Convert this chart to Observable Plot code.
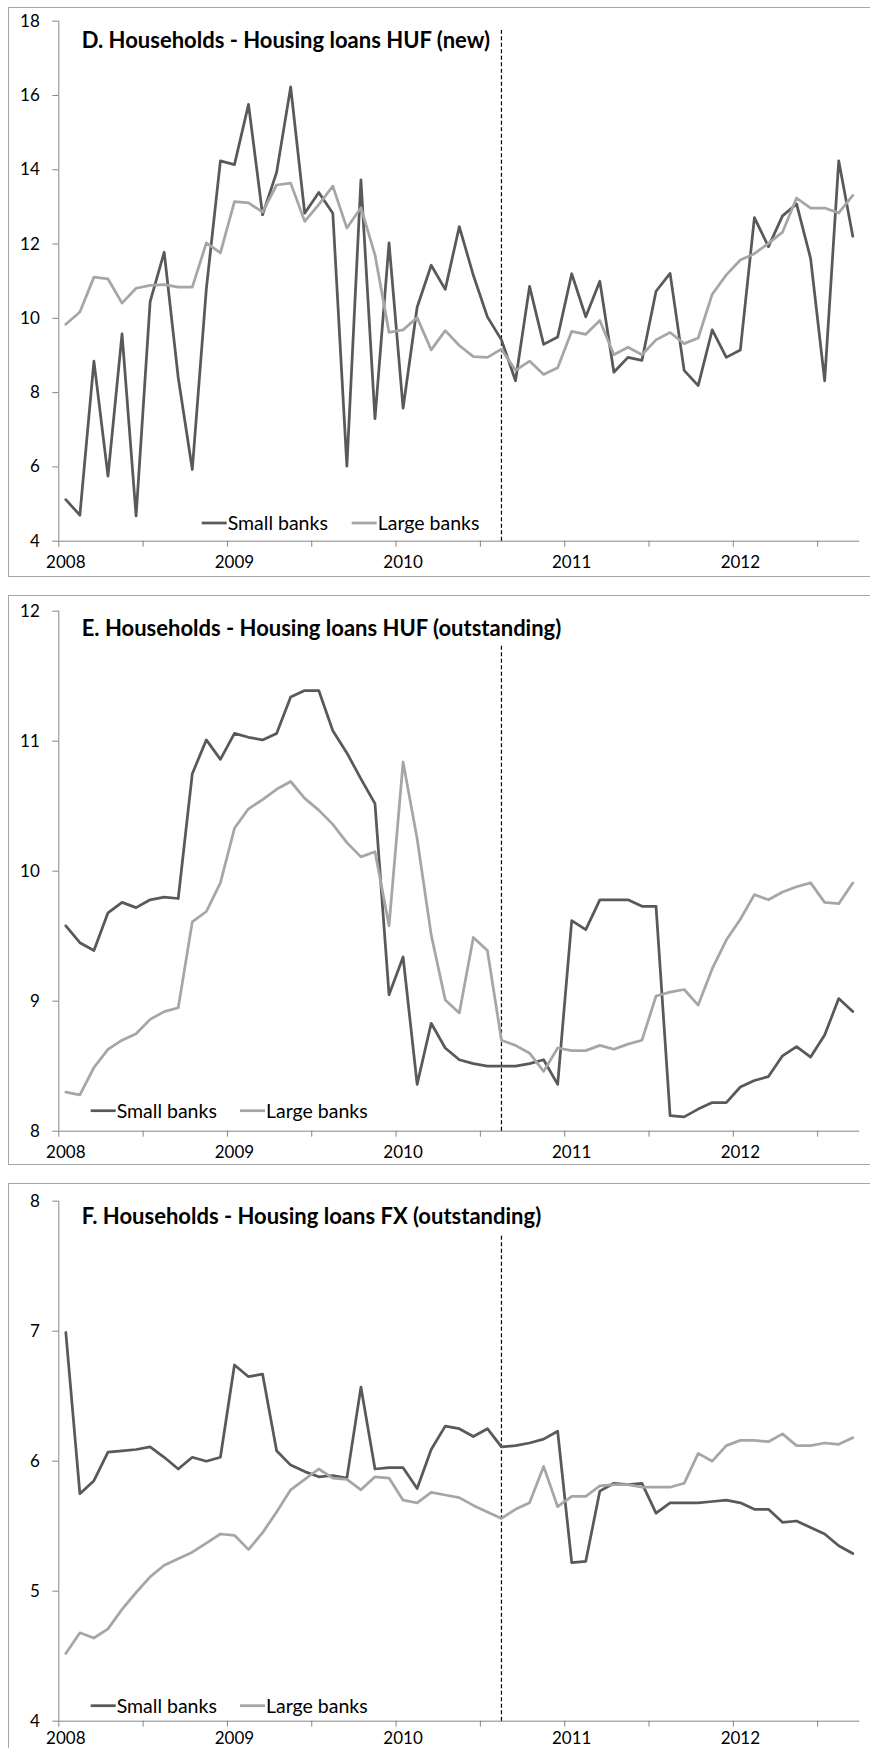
<!DOCTYPE html>
<html><head><meta charset="utf-8">
<script src="https://cdn.jsdelivr.net/npm/d3@7"></script>
<script src="https://cdn.jsdelivr.net/npm/@observablehq/plot@0.6"></script>
<style>
body{margin:0;width:870px;height:1748px;overflow:hidden;background:#fff;font-family:Lato,"Open Sans",sans-serif;position:relative}
.panel{position:absolute;left:8px;width:900px;height:568px;border:1px solid #a6a6a6;background:#fff}
.panel svg{position:absolute;left:0;top:0}
</style></head><body>
<div id="p0" class="panel" style="top:7px"></div>
<div id="p1" class="panel" style="top:595px"></div>
<div id="p2" class="panel" style="top:1183px"></div>
<script>
// Monthly categories: Jan 2008 (index 0) ... Sep 2012 (index 56)
const monthCount = 57;
const yearLabels = ["2008", "2009", "2010", "2011", "2012"];
const yearIndex = [0, 12, 24, 36, 48];
const seriesNames = ["Small banks", "Large banks"];
const policyMonth = [31]; // Aug 2010

const titles = [
  "D. Households - Housing loans HUF (new)",
  "E. Households - Housing loans HUF (outstanding)",
  "F. Households - Housing loans FX (outstanding)"
];

const dSmall = [5.12,4.70,8.85,5.75,9.58,4.68,10.45,11.78,8.40,5.93,10.80,14.24,14.14,15.76,12.79,13.93,16.23,12.83,13.39,12.83,6.02,13.73,7.30,12.03,7.58,10.30,11.43,10.78,12.47,11.16,10.04,9.42,8.32,10.86,9.30,9.50,11.20,10.04,11.00,8.55,8.95,8.87,10.73,11.21,8.60,8.19,9.69,8.95,9.15,12.71,11.93,12.76,13.08,11.61,8.32,14.24,12.21];
const dLarge = [9.84,10.17,11.11,11.06,10.41,10.81,10.89,10.91,10.84,10.84,12.03,11.76,13.14,13.11,12.86,13.59,13.64,12.61,13.06,13.56,12.43,12.98,11.71,9.62,9.69,10.02,9.15,9.67,9.27,8.97,8.95,9.17,8.60,8.85,8.49,8.67,9.65,9.57,9.94,9.02,9.22,9.02,9.42,9.62,9.32,9.47,10.65,11.17,11.57,11.74,12.02,12.32,13.24,12.97,12.97,12.84,13.31];

const eSmall = [9.58,9.45,9.39,9.68,9.76,9.72,9.78,9.80,9.79,10.75,11.01,10.86,11.06,11.03,11.01,11.06,11.34,11.39,11.39,11.08,10.91,10.71,10.52,9.05,9.34,8.36,8.83,8.64,8.55,8.52,8.50,8.50,8.50,8.52,8.55,8.36,9.62,9.55,9.78,9.78,9.78,9.73,9.73,8.12,8.11,8.17,8.22,8.22,8.34,8.39,8.42,8.58,8.65,8.57,8.74,9.02,8.92];
const eLarge = [8.30,8.28,8.49,8.63,8.70,8.75,8.86,8.92,8.95,9.61,9.69,9.91,10.33,10.48,10.55,10.63,10.69,10.56,10.47,10.36,10.22,10.11,10.15,9.58,10.84,10.25,9.51,9.01,8.91,9.49,9.39,8.70,8.66,8.60,8.46,8.64,8.62,8.62,8.66,8.63,8.67,8.70,9.04,9.07,9.09,8.97,9.25,9.47,9.63,9.82,9.78,9.84,9.88,9.91,9.76,9.75,9.91];

const fSmall = [6.99,5.75,5.85,6.07,6.08,6.09,6.11,6.03,5.94,6.03,6.00,6.03,6.74,6.65,6.67,6.08,5.97,5.92,5.88,5.89,5.87,6.57,5.94,5.95,5.95,5.79,6.09,6.27,6.25,6.19,6.25,6.11,6.12,6.14,6.17,6.23,5.22,5.23,5.77,5.83,5.82,5.83,5.60,5.68,5.68,5.68,5.69,5.70,5.68,5.63,5.63,5.53,5.54,5.49,5.44,5.35,5.29];
const fLarge = [4.52,4.68,4.64,4.71,4.86,4.99,5.11,5.20,5.25,5.30,5.37,5.44,5.43,5.32,5.45,5.61,5.78,5.86,5.94,5.87,5.86,5.78,5.88,5.87,5.70,5.68,5.76,5.74,5.72,5.66,5.61,5.56,5.63,5.68,5.96,5.65,5.73,5.73,5.81,5.82,5.82,5.80,5.80,5.80,5.83,6.06,6.00,6.12,6.16,6.16,6.15,6.21,6.12,6.12,6.14,6.13,6.18];

const dTicks = [4, 6, 8, 10, 12, 14, 16, 18];
const eTicks = [8, 9, 10, 11, 12];
const fTicks = [4, 5, 6, 7, 8];
const dashTops = [17.75, 11.73, 7.73];

// styles & layout
const seriesColors = ["#595959", "#a6a6a6"];
const axisGray = "#868686";
const FONT = "Lato, 'Open Sans', sans-serif";
const layout = [
  {id: "p0", mt: 12.7, mb: 35.3, legX: [192.7, 342.7], legY: 515, labPad: 15},
  {id: "p1", mt: 14.7, mb: 33.3, legX: [81.7, 231], legY: 514.7, labPad: 15},
  {id: "p2", mt: 16.7, mb: 31.3, legX: [81.7, 231], legY: 521.7, labPad: 11}
];
const panelData = [[dSmall, dLarge], [eSmall, eLarge], [fSmall, fLarge]];
const panelTicks = [dTicks, eTicks, fTicks];

layout.forEach((L, p) => {
  const rows = [];
  seriesNames.forEach((s, k) => panelData[p][k].forEach((v, i) => rows.push({series: s, i, v})));
  const ticks = panelTicks[p];
  const lo = d3.min(ticks), hi = d3.max(ticks);
  const halfYearTicks = d3.range(0, monthCount - 2, 6).map(i => i - 0.5);
  const svg = Plot.plot({
    width: 861, height: 568,
    marginLeft: 49.3, marginRight: 10.7, marginTop: L.mt, marginBottom: L.mb,
    style: {fontFamily: FONT, fontSize: "17px", color: "#000", background: "none", overflow: "visible"},
    x: {domain: [-0.5, monthCount - 0.5], axis: null},
    y: {domain: [lo, hi], axis: null},
    color: {domain: seriesNames, range: seriesColors},
    marks: [
      Plot.axisY({ticks, label: null, tickSize: 6, tickPadding: 13, stroke: axisGray, fill: "#000", tickFormat: d => String(d)}),
      Plot.axisX({ticks: halfYearTicks, label: null, tickSize: 6, stroke: axisGray, tickFormat: () => ""}),
      Plot.axisX({ticks: yearIndex, label: null, tickSize: 0, tickPadding: L.labPad, fill: "#000", tickFormat: i => yearLabels[yearIndex.indexOf(i)]}),
      Plot.ruleX([-0.5], {stroke: axisGray}),
      Plot.ruleY([lo], {stroke: axisGray}),
      Plot.ruleX(policyMonth, {y1: lo, y2: dashTops[p], stroke: "#000", strokeWidth: 1.2, strokeDasharray: "4,2.5"}),
      Plot.line(rows, {x: "i", y: "v", z: "series", stroke: "series", strokeWidth: 2.75})
    ]
  });
  const s = d3.select(svg);
  s.append("text")
    .attr("x", 72.7).attr("y", 40)
    .attr("text-anchor", "start")
    .attr("font-family", FONT).attr("font-weight", "bold").attr("font-size", 22)
    .attr("fill", "#000")
    .text(titles[p]);
  const g = s.append("g").attr("font-family", FONT).attr("font-size", 19.5).attr("fill", "#000").attr("text-anchor", "start");
  seriesNames.forEach((name, k) => {
    g.append("line")
      .attr("x1", L.legX[k]).attr("x2", L.legX[k] + 25)
      .attr("y1", L.legY).attr("y2", L.legY)
      .attr("stroke", seriesColors[k]).attr("stroke-width", 2.75);
    g.append("text")
      .attr("x", L.legX[k] + 26).attr("y", L.legY).attr("dy", "0.35em")
      .text(name);
  });
  document.getElementById(L.id).appendChild(svg);
});
</script>
</body></html>
